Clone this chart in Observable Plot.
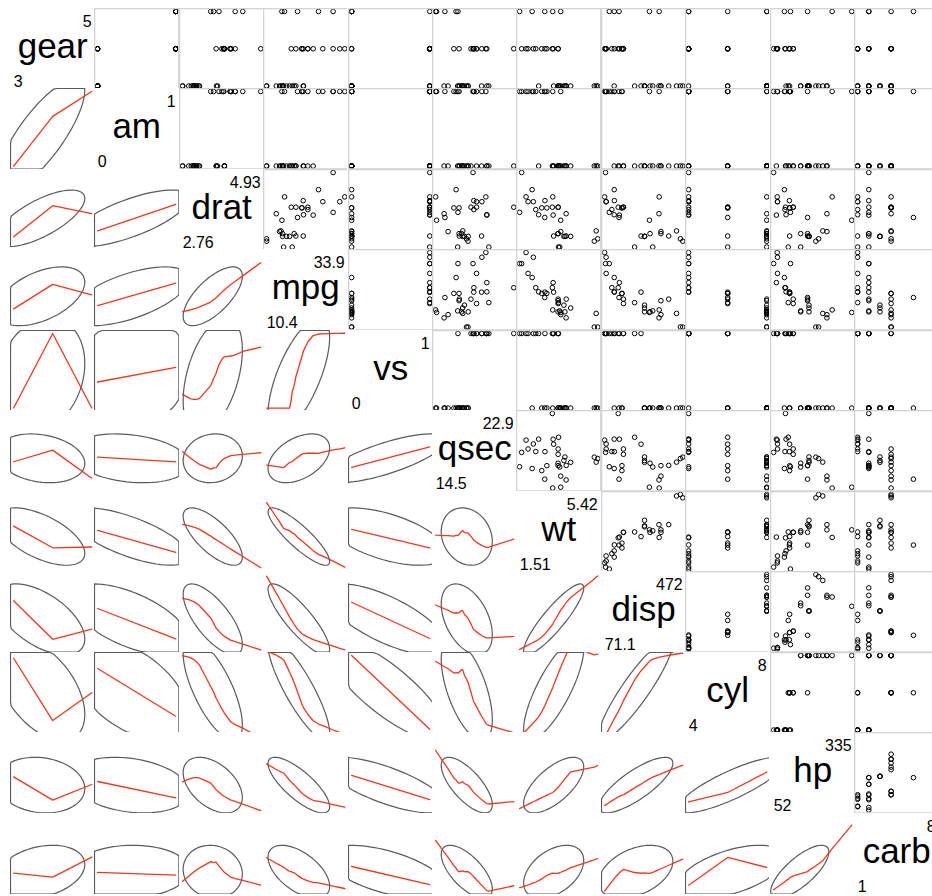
<!DOCTYPE html>
<html>
<head>
<meta charset="utf-8">
<script src="https://cdn.jsdelivr.net/npm/d3@7"></script>
<script src="https://cdn.jsdelivr.net/npm/@observablehq/plot@0.6"></script>
<style>
  html, body { margin: 0; padding: 0; background: #fff; }
  #chart { position: relative; width: 932px; height: 896px; overflow: hidden; background: #fff; }
  #chart svg { position: absolute; }
</style>
</head>
<body>
<div id="chart"></div>
<script>
// mtcars (32 cars), columns
const mpg  = [21.0,21.0,22.8,21.4,18.7,18.1,14.3,24.4,22.8,19.2,17.8,16.4,17.3,15.2,10.4,10.4,14.7,32.4,30.4,33.9,21.5,15.5,15.2,13.3,19.2,27.3,26.0,30.4,15.8,19.7,15.0,21.4];
const cyl  = [6,6,4,6,8,6,8,4,4,6,6,8,8,8,8,8,8,4,4,4,4,8,8,8,8,4,4,4,8,6,8,4];
const disp = [160,160,108,258,360,225,360,146.7,140.8,167.6,167.6,275.8,275.8,275.8,472,460,440,78.7,75.7,71.1,120.1,318,304,350,400,79,120.3,95.1,351,145,301,121];
const hp   = [110,110,93,110,175,105,245,62,95,123,123,180,180,180,205,215,230,66,52,65,97,150,150,245,175,66,91,113,264,175,335,109];
const drat = [3.90,3.90,3.85,3.08,3.15,2.76,3.21,3.69,3.92,3.92,3.92,3.07,3.07,3.07,2.93,3.00,3.23,4.08,4.93,4.22,3.70,2.76,3.15,3.73,3.08,4.08,4.43,3.77,4.22,3.62,3.54,4.11];
const wt   = [2.620,2.875,2.320,3.215,3.440,3.460,3.570,3.190,3.150,3.440,3.440,4.070,3.730,3.780,5.250,5.424,5.345,2.200,1.615,1.835,2.465,3.520,3.435,3.840,3.845,1.935,2.140,1.513,3.170,2.770,3.570,2.780];
const qsec = [16.46,17.02,18.61,19.44,17.02,20.22,15.84,20.00,22.90,18.30,18.90,17.40,17.60,18.00,17.98,17.82,17.42,19.47,18.52,19.90,20.01,16.87,17.30,15.41,17.05,18.90,16.70,16.90,14.50,15.50,14.60,18.60];
const vs   = [0,0,1,1,0,1,0,1,1,1,1,0,0,0,0,0,0,1,1,1,1,0,0,0,0,1,0,1,0,0,0,1];
const am   = [1,1,1,0,0,0,0,0,0,0,0,0,0,0,0,0,0,1,1,1,0,0,0,0,0,1,1,1,1,1,1,1];
const gear = [4,4,4,3,3,3,3,4,4,4,4,3,3,3,3,3,3,4,4,4,3,3,3,3,3,4,5,5,5,5,5,4];
const carb = [4,4,1,1,2,1,4,2,2,4,4,3,3,3,4,4,4,1,2,1,1,2,2,4,2,1,2,2,4,6,8,2];

// variable order of the matrix (top-left to bottom-right)
const varNames = ["gear","am","drat","mpg","vs","qsec","wt","disp","cyl","hp","carb"];
const columns = {gear, am, drat, mpg, vs, qsec, wt, disp, cyl, hp, carb};

// layout
const X0 = 9.9, Y0 = 7.5, CW = 84.4, CH = 80.55;
const FONT = "'Liberation Sans', Arial, Helvetica, sans-serif";

// padded domain (R usr: +4% each side)
function domainOf(v) {
  const [lo, hi] = d3.extent(v);
  const p = 0.04 * (hi - lo);
  return [lo - p, hi + p];
}

// R stats::lowess (clowess port)
function lowess(xIn, yIn, f = 2/3, nsteps = 3) {
  const n = xIn.length;
  const order = d3.range(n).sort((a, b) => (xIn[a] - xIn[b]) || (a - b));
  const x = order.map(k => xIn[k]), y = order.map(k => yIn[k]);
  const delta = 0.01 * (x[n-1] - x[0]);
  const ys = new Array(n).fill(0), rw = new Array(n).fill(1), res = new Array(n).fill(0);
  const ns = Math.max(2, Math.min(n, Math.floor(f * n + 1e-7)));
  const range = x[n-1] - x[0];
  function lowest(xs, nleft, nright, userw) {
    const h = Math.max(xs - x[nleft], x[nright] - xs);
    const h9 = 0.999 * h, h1 = 0.001 * h;
    const w = new Array(n).fill(0);
    let a = 0, j = nleft;
    while (j < n) {
      w[j] = 0;
      const r = Math.abs(x[j] - xs);
      if (r <= h9) {
        w[j] = r <= h1 ? 1 : Math.pow(1 - Math.pow(r / h, 3), 3);
        if (userw) w[j] *= rw[j];
        a += w[j];
      } else if (x[j] > xs) break;
      j++;
    }
    const nrt = j - 1;
    if (a <= 0) return null;
    for (j = nleft; j <= nrt; j++) w[j] /= a;
    if (h > 0) {
      a = 0;
      for (j = nleft; j <= nrt; j++) a += w[j] * x[j];
      let b = xs - a, c = 0;
      for (j = nleft; j <= nrt; j++) c += w[j] * (x[j] - a) * (x[j] - a);
      if (Math.sqrt(c) > 0.001 * range) {
        b /= c;
        for (j = nleft; j <= nrt; j++) w[j] *= (b * (x[j] - a) + 1);
      }
    }
    let s = 0;
    for (j = nleft; j <= nrt; j++) s += w[j] * y[j];
    return s;
  }
  for (let iter = 1; iter <= nsteps + 1; iter++) {
    let nleft = 0, nright = ns - 1, last = -1, i = 0;
    for (;;) {
      if (nright < n - 1) {
        const d1 = x[i] - x[nleft], d2 = x[nright + 1] - x[i];
        if (d1 > d2) { nleft++; nright++; continue; }
      }
      const v = lowest(x[i], nleft, nright, iter > 1);
      ys[i] = v === null ? y[i] : v;
      if (last < i - 1) {
        const denom = x[i] - x[last];
        for (let j = last + 1; j < i; j++) {
          const alpha = (x[j] - x[last]) / denom;
          ys[j] = alpha * ys[i] + (1 - alpha) * ys[last];
        }
      }
      last = i;
      const cut = x[last] + delta;
      for (i = last + 1; i < n; i++) {
        if (x[i] > cut) break;
        if (x[i] === x[last]) { ys[i] = ys[last]; last = i; }
      }
      i = Math.max(last + 1, i - 1);
      if (last >= n - 1) break;
    }
    for (let k = 0; k < n; k++) res[k] = y[k] - ys[k];
    let sc = 0;
    for (let k = 0; k < n; k++) sc += Math.abs(res[k]);
    sc /= n;
    if (iter > nsteps) break;
    const sorted = res.map(Math.abs).sort((a, b) => a - b);
    const m1 = Math.floor(n / 2);
    const cmad = n % 2 === 0 ? 3 * (sorted[m1] + sorted[n - m1 - 1]) : 6 * sorted[m1];
    if (cmad < 1e-7 * sc) break;
    const c9 = 0.999 * cmad, c1 = 0.001 * cmad;
    for (let k = 0; k < n; k++) {
      const r = Math.abs(res[k]);
      rw[k] = r <= c1 ? 1 : r <= c9 ? Math.pow(1 - Math.pow(r / cmad, 2), 2) : 0;
    }
  }
  return x.map((xv, k) => ({x: xv, y: ys[k]}));
}

// corrgram panel.ellipse: 68% data ellipse, clipped to the panel
function dataEllipse(X, Y, dx, dy) {
  const n = X.length;
  const mx = d3.mean(X), my = d3.mean(Y);
  const vx = d3.variance(X), vy = d3.variance(Y);
  const cov = d3.sum(X, (v, k) => (v - mx) * (Y[k] - my)) / (n - 1);
  const r11 = Math.sqrt(vx), r12 = cov / r11, r22 = Math.sqrt(Math.max(0, vy - r12 * r12));
  const d2 = n - 1, p = 0.68;
  const q = (d2 / 2) * (Math.pow(1 - p, -2 / d2) - 1); // qf(.68, 2, n-1)
  const radius = Math.sqrt(2 * q);
  const segs = 75;
  return d3.range(segs).map(k => {
    const a = 2 * Math.PI * k / (segs - 1);
    const c = Math.cos(a), s = Math.sin(a);
    const ex = mx + radius * c * r11;
    const ey = my + radius * (c * r12 + s * r22);
    return {x: Math.min(dx[1], Math.max(dx[0], ex)), y: Math.min(dy[1], Math.max(dy[0], ey))};
  });
}

const fmt = v => String(Math.round(v * 100) / 100);
const chart = document.getElementById("chart");
const idx = d3.range(mpg.length);

varNames.forEach((rowVar, i) => {
  varNames.forEach((colVar, j) => {
    const X = columns[colVar], Y = columns[rowVar];
    const dx = domainOf(X), dy = domainOf(Y);
    let marks;
    if (i === j) {
      const [lo, hi] = d3.extent(X);
      marks = [
        Plot.text([rowVar], {frameAnchor: "middle", text: d => d, fontSize: 35, dy: -2, fill: "black"}),
        Plot.text([lo], {x: d => d, y: d => d, text: d => fmt(d), textAnchor: "start", lineAnchor: "bottom", fontSize: 16, dy: 1, fill: "black"}),
        Plot.text([hi], {x: d => d, y: d => d, text: d => fmt(d), textAnchor: "end", lineAnchor: "top", fontSize: 16, dy: 4, fill: "black"})
      ];
    } else if (j > i) {
      marks = [
        Plot.dot(idx, {x: k => X[k], y: k => Y[k], r: 2.3, stroke: "black", strokeWidth: 1, fill: "none"}),
        Plot.frame({stroke: "#d3d3d3", strokeWidth: 1.6})
      ];
    } else {
      marks = [
        Plot.line(dataEllipse(X, Y, dx, dy), {x: "x", y: "y", stroke: "#5a5a5a", strokeWidth: 1.2, curve: "linear"}),
        Plot.line(lowess(X, Y), {x: "x", y: "y", stroke: "#f2361e", strokeWidth: 1.3, curve: "linear"})
      ];
    }
    const svg = Plot.plot({
      width: CW, height: CH, margin: 0,
      x: {domain: dx, axis: null},
      y: {domain: dy, axis: null},
      style: {background: "transparent", fontFamily: FONT, overflow: i === j ? "visible" : "hidden"},
      marks
    });
    svg.style.left = (X0 + j * CW) + "px";
    svg.style.top = (Y0 + i * CH) + "px";
    chart.appendChild(svg);
  });
});
</script>
</body>
</html>
